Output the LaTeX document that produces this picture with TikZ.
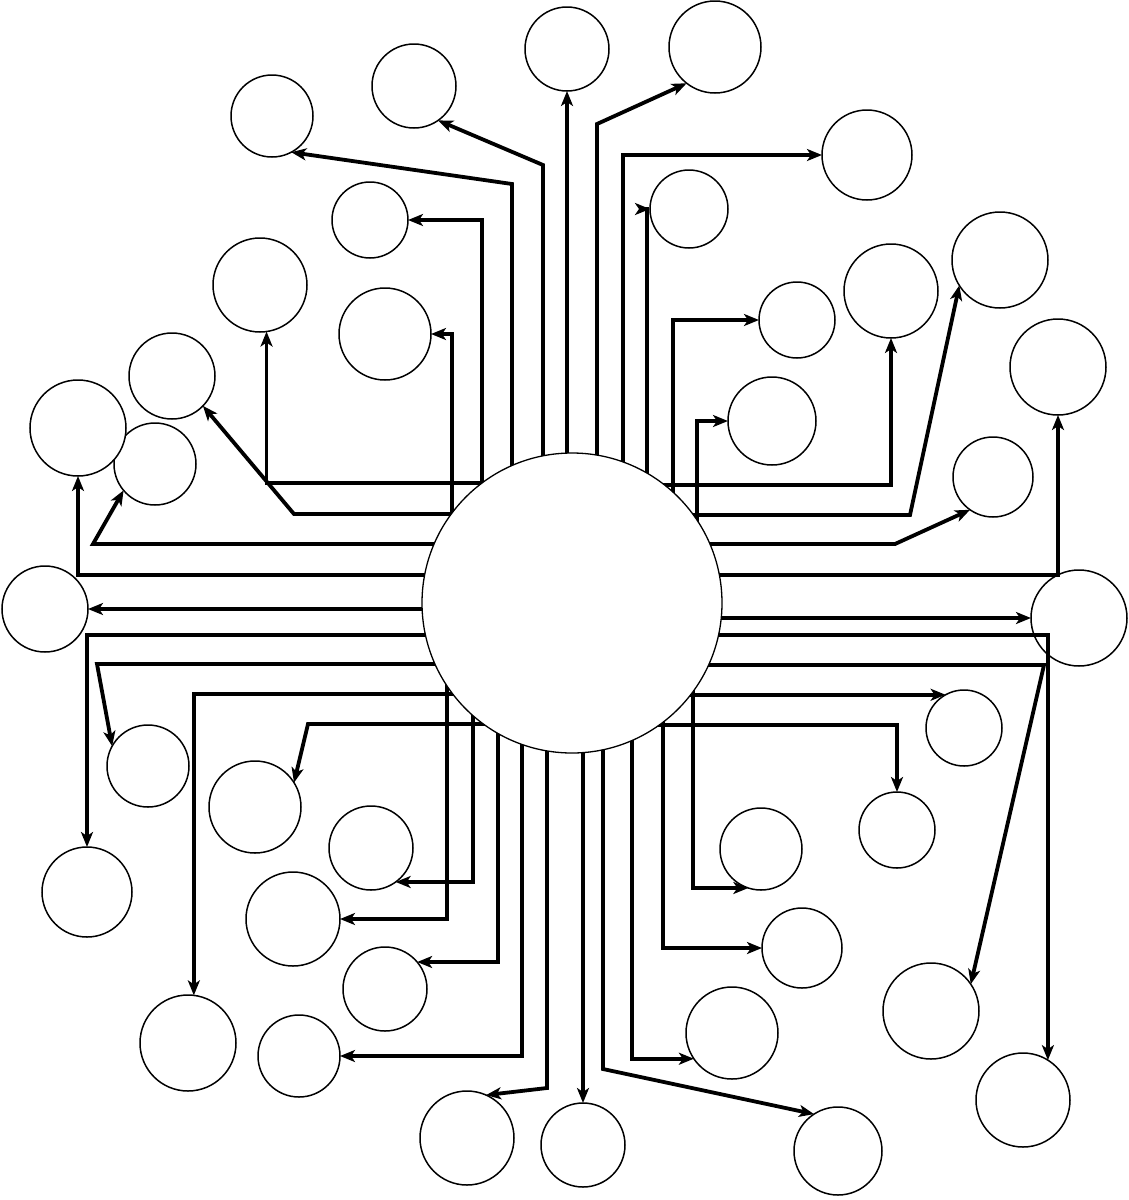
\documentclass[tikz,border=0pt]{standalone}
\usetikzlibrary{arrows.meta}
\pgfdeclarelayer{fg}
\pgfsetlayers{main,fg}
\begin{document}
\begin{tikzpicture}[x=0.5pt,y=-0.5pt,
  sat/.style={circle,draw,line width=0.75pt,fill=white,inner sep=0pt,outer sep=0pt,minimum size=#1 pt},
  hub/.style={circle,draw,line width=0.65pt,fill=white,inner sep=0pt,outer sep=0pt,minimum size=150pt},
  wire/.style={line width=1.9pt,-{Stealth[length=7.5pt,width=6pt,inset=2pt]}}]
\fill[white] (0,0) rectangle (1129,1200);
\useasboundingbox (0,0) rectangle (1129,1200);
\begin{pgfonlayer}{fg}
\node[hub] (C) at (572,603) {};
\end{pgfonlayer}
% top group
\node[sat=41] (a1) at (272,116) {};
\node[sat=42] (a2) at (414,86) {};
\node[sat=42] (a3) at (567,49) {};
\node[sat=46] (a4) at (715,47) {};
\node[sat=45] (a5) at (867,155) {};
\node[sat=39] (a6) at (689,209) {};
\node[sat=38] (a7) at (797,320) {};
\node[sat=44] (a8) at (772,421) {};
\node[sat=38] (a9) at (370,220) {};
\node[sat=46] (a10) at (385,334) {};
% right group
\node[sat=47] (b1) at (891,291) {};
\node[sat=48] (b2) at (1000,260) {};
\node[sat=40] (b3) at (993,477) {};
\node[sat=48] (b4) at (1058,367) {};
\node[sat=48] (b5) at (1079,618) {};
\node[sat=47] (b6) at (1023,1100) {};
\node[sat=48] (b7) at (931,1011) {};
\node[sat=38] (b8) at (964,728) {};
\node[sat=38] (b9) at (897,830) {};
% bottom group
\node[sat=47] (c1) at (293,919) {};
\node[sat=42] (c2) at (371,848) {};
\node[sat=42] (c3) at (385,989) {};
\node[sat=41] (c4) at (299,1056) {};
\node[sat=47] (c5) at (467,1138) {};
\node[sat=42] (c6) at (583,1145) {};
\node[sat=44] (c7) at (838,1151) {};
\node[sat=46] (c8) at (732,1033) {};
\node[sat=40] (c9) at (802,948) {};
\node[sat=41] (c10) at (761,849) {};
% left group
\node[sat=47] (d1) at (260,285) {};
\node[sat=43] (d2) at (172,376) {};
\node[sat=41] (d3) at (155,464) {};
\node[sat=48] (d4) at (78,428) {};
\node[sat=43] (d5) at (45,609) {};
\node[sat=45] (d6) at (87,892) {};
\node[sat=41] (d7) at (148,766) {};
\node[sat=48] (d8) at (188,1043) {};
\node[sat=46] (d9) at (255,807) {};
% top connectors
\draw[wire] (452,0 |- C.center) |- (a10.east);
\draw[wire] (482,0 |- C.center) |- (a9.east);
\draw[wire] (512,0 |- C.center) -- (512,184) -- (a1.-62);
\draw[wire] (543,0 |- C.center) -- (543,165) -- (a2.-55);
\draw[wire] (567,0 |- C.center) -- (a3.south);
\draw[wire] (597,0 |- C.center) -- (597,124) -- (a4.-128);
\draw[wire] (623,0 |- C.center) |- (a5.west);
\draw[wire] (647,0 |- C.center) |- (a6.west);
\draw[wire] (673,0 |- C.center) |- (a7.west);
\draw[wire] (697,0 |- C.center) |- (a8.west);
% right connectors
\draw[wire] (C.center |- 0,485) -| (b1.south);
\draw[wire] (C.center |- 0,515) -- (910,515) -- (b2.-148);
\draw[wire] (C.center |- 0,544) -- (895,544) -- (b3.-125);
\draw[wire] (C.center |- 0,575) -| (b4.south);
\draw[wire] (C.center |- b5.west) -- (b5.west);
\draw[wire] (C.center |- 0,635) -| (b6.58);
\draw[wire] (C.center |- 0,665) -- (1044,665) -- (b7.34);
\draw[wire] (C.center |- b8.119) -- (b8.119);
\draw[wire] (C.center |- 0,725) -| (b9.north);
% bottom connectors
\draw[wire] (447,0 |- C.center) |- (c1.east);
\draw[wire] (473,0 |- C.center) |- (c2.-54);
\draw[wire] (498,0 |- C.center) |- (c3.40);
\draw[wire] (522,0 |- C.center) |- (c4.east);
\draw[wire] (547,0 |- C.center) -- (547,1088) -- (c5.66);
\draw[wire] (583,0 |- C.center) -- (c6.north);
\draw[wire] (603,0 |- C.center) -- (603,1069) -- (c7.123);
\draw[wire] (632,0 |- C.center) |- (c8.-146);
\draw[wire] (663,0 |- C.center) |- (c9.west);
\draw[wire] (693,0 |- C.center) |- (c10.-108);
% left connectors
\draw[wire] (C.center |- 0,483) -| (d1.-82);
\draw[wire] (C.center |- 0,514) -- (294,514) -- (d2.-44);
\draw[wire] (C.center |- 0,544) -- (93,544) -- (d3.-140);
\draw[wire] (C.center |- 0,575) -| (d4.south);
\draw[wire] (C.center |- d5.east) -- (d5.east);
\draw[wire] (C.center |- 0,635) -| (d6.north);
\draw[wire] (C.center |- 0,664) -- (97,664) -- (d7.151);
\draw[wire] (C.center |- 0,694) -| (d8.83);
\draw[wire] (C.center |- 0,724) -- (308,724) -- (d9.32);
\end{tikzpicture}
\end{document}
